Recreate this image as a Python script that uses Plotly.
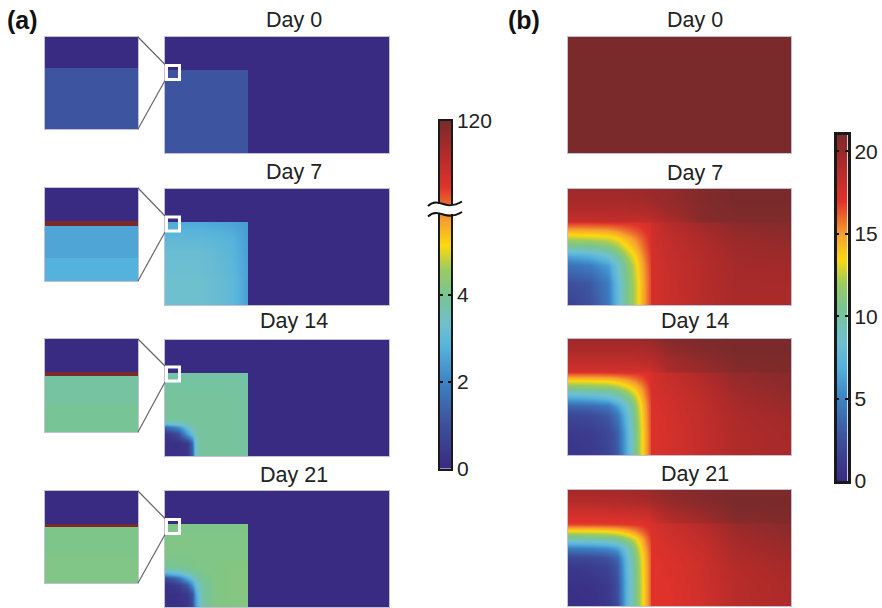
import plotly.graph_objects as go

W, H = 882, 608

# ---------- colour maps ----------
CMAP_COLORS = ["#392a82", "#3d4f9c", "#3c82c4", "#55b2dc", "#6fc0cf", "#78c493",
               "#9bcb5f", "#fdd80f", "#f6a02f", "#e0322b", "#a82a2a", "#7a2a2b"]
LEFT_STOPS = [0, 1, 2, 2.8, 3.3, 4, 4.6, 5.15, 5.7, 6.5, 7.4, 8]
RIGHT_STOPS = [0, 2.5, 5, 7, 8.5, 10.5, 12, 13.5, 15, 17, 19.5, 21]
LEFT_TICKS = [0, 2, 4, 8]
LEFT_TICK_LABELS = ["0", "2", "4", "120"]
RIGHT_TICKS = [0, 5, 10, 15, 20]
DAYS = ["Day 0", "Day 7", "Day 14", "Day 21"]

# ---------- panel (a): drug concentration, main maps ----------
A_X = [0, 6, 10, 12, 13.5, 15, 17, 22, 30, 36.8]
A_Y = [0, 6, 10, 13, 14.5, 16, 18, 24, 30, 37.2]
A_DAY0 = [[1.1] * 10 for _ in A_Y]
A_DAY7 = [
    [3.3, 3.3, 3.3, 3.3, 3.3, 3.3, 3.25, 3.2, 3.0, 2.5],
    [3.3, 3.3, 3.3, 3.3, 3.3, 3.3, 3.25, 3.2, 3.0, 2.5],
    [3.3, 3.3, 3.3, 3.3, 3.3, 3.3, 3.25, 3.2, 3.0, 2.5],
    [3.3, 3.3, 3.3, 3.3, 3.3, 3.25, 3.25, 3.2, 3.0, 2.5],
    [3.25, 3.25, 3.25, 3.25, 3.25, 3.25, 3.2, 3.15, 2.95, 2.5],
    [3.25, 3.25, 3.25, 3.25, 3.25, 3.25, 3.2, 3.15, 2.95, 2.5],
    [3.25, 3.25, 3.25, 3.25, 3.25, 3.25, 3.2, 3.15, 2.95, 2.5],
    [3.2, 3.2, 3.2, 3.2, 3.2, 3.2, 3.15, 3.1, 2.9, 2.5],
    [3.0, 3.0, 3.0, 3.0, 3.0, 3.0, 3.0, 2.95, 2.8, 2.45],
    [2.65, 2.65, 2.65, 2.65, 2.65, 2.65, 2.65, 2.6, 2.55, 2.45],
]
A_DAY14 = [
    [0.2, 0.2, 0.3, 1.2, 3.2, 3.8, 3.9, 3.9, 3.9, 3.8],
    [0.2, 0.2, 0.4, 1.5, 3.3, 3.8, 3.9, 3.9, 3.9, 3.8],
    [0.3, 0.8, 2.4, 3.1, 3.6, 3.85, 3.9, 3.9, 3.9, 3.8],
    [1.5, 2.2, 3.2, 3.6, 3.8, 3.9, 3.9, 3.9, 3.9, 3.8],
    [3.0, 3.3, 3.7, 3.85, 3.9, 3.9, 3.9, 3.9, 3.9, 3.8],
    [3.75, 3.8, 3.85, 3.9, 3.9, 3.9, 3.9, 3.9, 3.9, 3.8],
    [3.9, 3.9, 3.9, 3.9, 3.9, 3.9, 3.9, 3.9, 3.9, 3.8],
    [3.9, 3.9, 3.9, 3.9, 3.9, 3.9, 3.9, 3.9, 3.9, 3.8],
    [3.85, 3.85, 3.85, 3.85, 3.85, 3.85, 3.85, 3.85, 3.85, 3.8],
    [3.8, 3.8, 3.8, 3.8, 3.8, 3.8, 3.8, 3.8, 3.8, 3.75],
]
A_DAY21 = [
    [0.2, 0.2, 0.3, 0.8, 2.2, 3.2, 3.8, 4.15, 4.2, 4.2],
    [0.2, 0.2, 0.4, 1.0, 2.4, 3.3, 3.8, 4.15, 4.2, 4.2],
    [0.2, 0.5, 1.2, 2.2, 3.0, 3.5, 3.9, 4.15, 4.2, 4.2],
    [0.9, 1.6, 2.7, 3.2, 3.6, 3.8, 4.0, 4.15, 4.2, 4.2],
    [2.2, 2.7, 3.3, 3.6, 3.8, 3.95, 4.05, 4.15, 4.2, 4.2],
    [3.4, 3.5, 3.75, 3.9, 4.0, 4.05, 4.1, 4.15, 4.2, 4.2],
    [3.95, 4.0, 4.05, 4.1, 4.1, 4.15, 4.15, 4.15, 4.2, 4.2],
    [4.15, 4.15, 4.15, 4.15, 4.15, 4.15, 4.15, 4.15, 4.15, 4.15],
    [4.15, 4.15, 4.15, 4.15, 4.15, 4.15, 4.15, 4.15, 4.15, 4.15],
    [4.1, 4.1, 4.1, 4.1, 4.1, 4.1, 4.1, 4.1, 4.1, 4.1],
]
A_MAPS = [A_DAY0, A_DAY7, A_DAY14, A_DAY21]
A_OUTSIDE_X = [37.2, 100]
A_OUTSIDE_Y = [37.6, 52]

# ---------- panel (a): insets, horizontal bands (edges from bottom, 0-100) ----------
INSET_EDGES = [
    [0, 66, 100],
    [0, 25, 59, 65, 100],
    [0, 30, 60, 64, 100],
    [0, 30, 61, 64, 100],
]
INSET_VALUES = [
    [1.1, 0],
    [2.8, 2.6, 8, 0],
    [3.95, 3.82, 8, 0],
    [4.15, 4.1, 8, 0],
]

# ---------- panel (b): oxygen, maps ----------
B_X = [0, 10, 18, 22, 26, 30, 33, 36.8, 37.2, 45, 60, 75, 100]
B_Y = [0, 10, 18, 22, 26, 30, 33, 36.8, 37.8, 42, 47, 52]
B_DAY0 = [[21] * 13 for _ in B_Y]
B_DAY7 = [
    [1.5, 2.5, 4.5, 7.5, 10.5, 12.5, 14.5, 16.5, 17.5, 18, 18.8, 19.4, 19.4],
    [2.5, 3.0, 4.8, 7.7, 10.5, 12.5, 14.5, 16.5, 17.5, 18, 18.9, 19.5, 19.5],
    [4.2, 4.8, 6.2, 8.5, 11, 13, 14.8, 16.6, 17.5, 18.1, 18.9, 19.6, 19.7],
    [6.5, 7, 8.5, 10, 12, 13.6, 15.2, 16.8, 17.6, 18.2, 19, 19.7, 19.9],
    [10, 10.2, 11, 12, 13.3, 14.5, 15.8, 17, 17.6, 18.3, 19.1, 19.8, 20.1],
    [12.5, 12.7, 13, 13.6, 14.5, 15.4, 16.2, 17.2, 17.7, 18.4, 19.3, 20, 20.3],
    [14.5, 14.6, 14.8, 15.2, 15.8, 16.3, 16.8, 17.3, 17.8, 18.6, 19.5, 20.2, 20.5],
    [16.8, 16.8, 16.9, 17, 17, 17.1, 17.2, 17.5, 17.9, 18.8, 19.8, 20.4, 20.6],
    [18.2, 18.2, 18.3, 18.3, 18.3, 18.3, 18.4, 18.5, 18.6, 19.2, 20.6, 20.8, 20.8],
    [19, 19, 19, 19, 19, 19.1, 19.1, 19.2, 19.3, 19.8, 20.6, 20.9, 20.9],
    [19.6, 19.6, 19.6, 19.6, 19.6, 19.7, 19.7, 19.8, 19.9, 20.1, 20.7, 21, 21],
    [19.8, 19.8, 19.8, 19.8, 19.8, 19.9, 19.9, 20, 20, 20.2, 20.7, 21, 21],
]
B_DAY14 = [
    [0.8, 1.0, 1.8, 3.0, 6.5, 10.5, 13.5, 16.3, 17.2, 17.5, 18.3, 19.2, 19.5],
    [1, 1.2, 2, 3.2, 6.7, 10.5, 13.5, 16.3, 17.2, 17.5, 18.3, 19.2, 19.6],
    [2, 2.2, 3, 4.5, 7.5, 11, 13.8, 16.4, 17.2, 17.6, 18.4, 19.3, 19.8],
    [3.5, 3.8, 4.5, 6, 8.5, 11.5, 14, 16.5, 17.3, 17.7, 18.5, 19.5, 20],
    [7, 7.2, 8, 9, 10.5, 12.5, 14.6, 16.7, 17.4, 17.8, 18.6, 19.6, 20.2],
    [10.8, 11, 11.3, 11.8, 12.8, 14, 15.3, 17, 17.5, 18, 18.8, 19.8, 20.4],
    [13.3, 13.4, 13.6, 14, 14.6, 15.4, 16.2, 17.2, 17.6, 18.1, 19, 20, 20.5],
    [16.6, 16.6, 16.7, 16.8, 16.9, 17, 17.1, 17.4, 17.6, 18.2, 19.2, 20.2, 20.6],
    [17.6, 17.6, 17.6, 17.6, 17.7, 17.7, 17.7, 17.8, 17.9, 19.4, 20, 20.6, 20.9],
    [18.5, 18.5, 18.5, 18.5, 18.5, 18.5, 18.6, 18.7, 18.8, 19.6, 20.2, 20.8, 20.9],
    [19.3, 19.3, 19.3, 19.3, 19.3, 19.3, 19.4, 19.5, 19.5, 20.2, 20.7, 21, 21],
    [19.8, 19.8, 19.8, 19.8, 19.8, 19.8, 19.9, 20, 20.1, 20.6, 20.9, 21, 21],
]
B_DAY21 = [
    [0.4, 0.5, 1, 2.2, 7, 10.5, 13.2, 16, 17, 17, 17.7, 18.8, 19.3],
    [0.5, 0.6, 1.1, 2.4, 7.1, 10.5, 13.2, 16, 17, 17.1, 17.8, 18.8, 19.4],
    [1, 1.2, 1.8, 3, 7.3, 10.6, 13.3, 16, 17, 17.2, 17.9, 19, 19.6],
    [2, 2.2, 2.8, 3.8, 7.7, 10.9, 13.5, 16.1, 17, 17.3, 18, 19.2, 19.8],
    [4.8, 5, 5.5, 6.3, 8.8, 11.6, 14, 16.3, 17.1, 17.4, 18.2, 19.4, 20],
    [9.5, 9.7, 10, 10.5, 11.5, 13, 14.8, 16.7, 17.2, 17.6, 18.4, 19.6, 20.2],
    [12.8, 12.9, 13.1, 13.5, 14.2, 15.1, 16, 17, 17.3, 17.8, 18.6, 19.8, 20.4],
    [16.7, 16.7, 16.8, 16.8, 16.9, 17, 17.1, 17.3, 17.4, 18, 18.9, 20, 20.5],
    [17, 17, 17, 17, 17, 17.1, 17.2, 17.4, 17.7, 18.8, 19.6, 20.5, 20.8],
    [17.8, 17.8, 17.9, 18, 18, 18.1, 18.2, 18.4, 18.6, 19.4, 20.1, 20.8, 20.9],
    [19, 19, 19.1, 19.1, 19.2, 19.3, 19.4, 19.5, 19.7, 20.1, 20.6, 21, 21],
    [19.6, 19.6, 19.6, 19.7, 19.7, 19.8, 19.8, 19.9, 20, 20.4, 20.7, 20.9, 20.9],
]
B_MAPS = [B_DAY0, B_DAY7, B_DAY14, B_DAY21]


# ---------- layout geometry in page pixels ----------
def X(p):
    return p / W


def Y(p):
    return 1 - p / H


A_ROWS = [(37, 153), (189, 305), (340, 456), (491, 607)]
B_ROWS = [(37, 153), (189, 305), (339, 455), (490, 606)]
INSET_ROWS = [(37, 129), (188, 281), (339, 432), (491, 583)]
BOX_ROWS = [(65.5, 79.5), (217, 231), (367, 381), (519.5, 533.5)]
TITLE_A_Y = [20, 172, 321, 475]
TITLE_B_Y = [20, 173, 321, 474]


def scale(stops):
    top = stops[-1]
    return [[s / top, c] for s, c in zip(stops, CMAP_COLORS)]


fig = go.Figure()
layout = {}
shapes = []
annos = []
n_axis = [0]
BORDER = "#c4c0d4"


def new_axes(x0, x1, top, bot, xr, yr):
    n_axis[0] += 1
    i = n_axis[0]
    s = "" if i == 1 else str(i)
    base = dict(showgrid=False, zeroline=False, ticks="", showticklabels=False, automargin=False,
                showline=True, linecolor=BORDER, linewidth=1, mirror=True, fixedrange=True)
    layout["xaxis" + s] = dict(base, domain=[X(x0), X(x1)], range=xr, anchor="y" + s)
    layout["yaxis" + s] = dict(base, domain=[Y(bot), Y(top)], range=yr, anchor="x" + s)
    return "x" + s, "y" + s, s


# panel (a)
full_x = A_X + A_OUTSIDE_X
full_y = A_Y + A_OUTSIDE_Y
for k in range(4):
    top, bot = A_ROWS[k]
    xa, ya, _ = new_axes(165, 389, top, bot, [0, 100], [0, 52])
    z = [row + [0] * len(A_OUTSIDE_X) for row in A_MAPS[k]]
    z += [[0] * len(full_x) for _ in A_OUTSIDE_Y]
    fig.add_trace(go.Heatmap(x=full_x, y=full_y, z=z, xaxis=xa, yaxis=ya, zmin=0, zmax=8,
                             colorscale=scale(LEFT_STOPS), showscale=False, zsmooth="best",
                             hoverinfo="skip"))

    itop, ibot = INSET_ROWS[k]
    xa, ya, _ = new_axes(45, 138, itop, ibot, [0, 1], [0, 100])
    fig.add_trace(go.Heatmap(x=[0, 1], y=INSET_EDGES[k], z=[[v] for v in INSET_VALUES[k]],
                             xaxis=xa, yaxis=ya, zmin=0, zmax=8,
                             colorscale=scale(LEFT_STOPS), showscale=False, hoverinfo="skip"))

    b0, b1 = BOX_ROWS[k]
    shapes.append(dict(type="line", xref="paper", yref="paper", x0=X(138), x1=X(165),
                       y0=Y(itop), y1=Y(b0 - 1), line=dict(color="#666666", width=1.2)))
    shapes.append(dict(type="line", xref="paper", yref="paper", x0=X(138), x1=X(165),
                       y0=Y(ibot), y1=Y(b1 + 1), line=dict(color="#666666", width=1.2)))
    shapes.append(dict(type="rect", xref="paper", yref="paper", x0=X(166.5), x1=X(179.5),
                       y0=Y(b0), y1=Y(b1), line=dict(color="white", width=3)))

# panel (b)
for k in range(4):
    top, bot = B_ROWS[k]
    xa, ya, _ = new_axes(568, 791, top, bot, [0, 100], [0, 52])
    fig.add_trace(go.Heatmap(x=B_X, y=B_Y, z=B_MAPS[k], xaxis=xa, yaxis=ya, zmin=0, zmax=21,
                             colorscale=scale(RIGHT_STOPS), showscale=False, zsmooth="best",
                             hoverinfo="skip"))

# colour bars
FONT = "Liberation Sans, Arial, sans-serif"
for stops, ticks, labels, box, lw in [
    (LEFT_STOPS, LEFT_TICKS, LEFT_TICK_LABELS, (440, 451, 121, 468.5), 1.5),
    (RIGHT_STOPS, RIGHT_TICKS, [str(t) for t in RIGHT_TICKS], (836.5, 847.5, 135, 481), 2.5),
]:
    xa, ya, s = new_axes(box[0], box[1], box[2], box[3], [0, 1], [0, stops[-1]])
    fig.add_trace(go.Heatmap(x=[0, 1], y=stops, z=[[v, v] for v in stops], xaxis=xa, yaxis=ya,
                             zmin=0, zmax=stops[-1], colorscale=scale(stops), showscale=False,
                             zsmooth="best", hoverinfo="skip"))
    layout["xaxis" + s].update(linecolor="#1a1a1a", linewidth=lw)
    layout["yaxis" + s].update(linecolor="#1a1a1a", linewidth=lw, side="right", showticklabels=True,
                               tickmode="array", tickvals=ticks, ticktext=labels, ticks="inside",
                               ticklen=3, tickwidth=2, tickcolor="#111111", mirror="ticks",
                               tickfont=dict(family=FONT, size=21, color="#222222"))

# axis break on the left colour bar
shapes.append(dict(type="rect", xref="paper", yref="paper", x0=X(430), x1=X(460),
                   y0=Y(204), y1=Y(214), fillcolor="white", line=dict(width=0)))
for dy in (0, 10.5):
    path = ("M" + f"{X(428):.5f},{Y(206 + dy):.5f}"
            + " C" + f"{X(434):.5f},{Y(200 + dy):.5f} {X(440):.5f},{Y(203 + dy):.5f} {X(445):.5f},{Y(204.5 + dy):.5f}"
            + " S" + f"{X(456):.5f},{Y(205 + dy):.5f} {X(462):.5f},{Y(201.5 + dy):.5f}")
    shapes.append(dict(type="path", xref="paper", yref="paper", path=path,
                       line=dict(color="#111111", width=2)))


def text(x, y, s, size=21.5, bold=False):
    annos.append(dict(x=X(x), y=Y(y), xref="paper", yref="paper", text=f"<b>{s}</b>" if bold else s,
                      showarrow=False, xanchor="center", yanchor="middle",
                      font=dict(family=FONT, size=size, color="#222222" if not bold else "#111111")))


for k, d in enumerate(DAYS):
    text(293.5, TITLE_A_Y[k], d)
    text(695, TITLE_B_Y[k], d)
text(22, 20, "(a)", 25, True)
text(523.5, 20, "(b)", 25, True)

fig.update_layout(width=W, height=H, margin=dict(l=0, r=0, t=0, b=0), paper_bgcolor="white",
                  plot_bgcolor="white", shapes=shapes, annotations=annos, showlegend=False,
                  **layout)
fig.write_html("out.html", config={"displayModeBar": False},
               post_script="document.body.style.margin='0';")
